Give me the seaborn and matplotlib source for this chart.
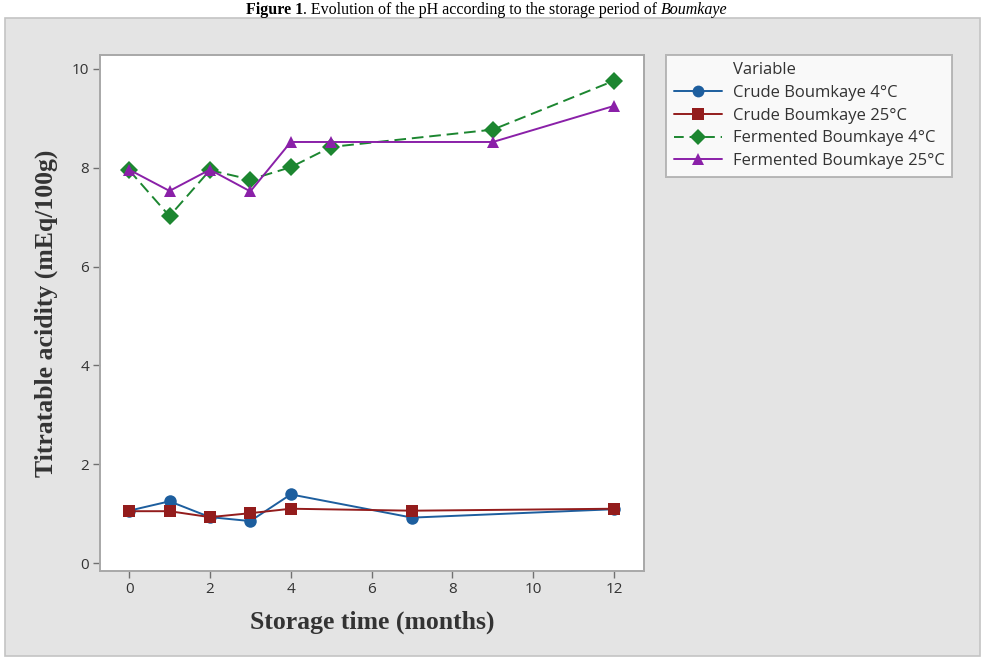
import pandas as pd
import numpy as np
import seaborn as sns
import matplotlib.pyplot as plt
from matplotlib.patches import Rectangle

# data
series_names = ['Crude Boumkaye 4°C', 'Crude Boumkaye 25°C',
                'Fermented Boumkaye 4°C', 'Fermented Boumkaye 25°C']

crude_4_months = [0, 1, 2, 3, 4, 7, 12]
crude_4_acidity = [1.06, 1.25, 0.93, 0.85, 1.39, 0.92, 1.09]

crude_25_months = [0, 1, 2, 3, 4, 7, 12]
crude_25_acidity = [1.05, 1.05, 0.93, 1.01, 1.10, 1.06, 1.10]

ferm_4_months = [0, 1, 2, 3, 4, 5, 9, 12]
ferm_4_acidity = [7.95, 7.02, 7.95, 7.76, 8.01, 8.42, 8.77, 9.76]

ferm_25_months = [0, 1, 2, 3, 4, 5, 9, 12]
ferm_25_acidity = [7.96, 7.53, 7.96, 7.52, 8.52, 8.52, 8.52, 9.25]

x_ticks = [0, 2, 4, 6, 8, 10, 12]
y_ticks = [0, 2, 4, 6, 8, 10]


def tidy_data():
    parts = []
    for name, m, v in zip(series_names,
                          [crude_4_months, crude_25_months, ferm_4_months, ferm_25_months],
                          [crude_4_acidity, crude_25_acidity, ferm_4_acidity, ferm_25_acidity]):
        parts.append(pd.DataFrame({'Month': m, 'Acidity': v, 'Variable': name}))
    return pd.concat(parts, ignore_index=True)


df = tidy_data()

colorPalette = dict(zip(series_names, ['#1D5E9E', '#931C1C', '#1C8630', '#8A20A8']))
markerMap = dict(zip(series_names, ['o', 's', 'D', '^']))
dashMap = dict(zip(series_names, ['', '', (6, 3), '']))

sns.set_theme(style='white')
plt.rcParams['font.family'] = ['Open Sans', 'DejaVu Sans']

fig = plt.figure(figsize=(9.85, 6.6), dpi=100, facecolor='white')

# grey panel behind the plot, like the stat package export
fig.patches.append(Rectangle((5 / 985, 1 - 656 / 660), 975 / 985, 638 / 660,
                             transform=fig.transFigure, facecolor='#e4e4e4',
                             edgecolor='#c4c4c4', linewidth=1.2, zorder=-10))

ax = fig.add_axes([100 / 985, 1 - 571 / 660, 544 / 985, 516 / 660])
ax.set_facecolor('white')

sns.lineplot(data=df, x='Month', y='Acidity', hue='Variable', style='Variable',
             hue_order=series_names, style_order=series_names,
             palette=colorPalette, markers=markerMap, dashes=dashMap,
             markersize=9, markeredgewidth=0, linewidth=1.4, ax=ax, legend=False)

ax.set_xlim(-0.72, 12.74)
ax.set_ylim(-0.16, 10.28)
ax.set_xticks(x_ticks)
ax.set_yticks(y_ticks)
ax.tick_params(axis='both', which='major', direction='out', length=5, width=1,
               color='#707070', labelsize=11, labelcolor='#333333', left=True, bottom=True, pad=3)
for s in ax.spines.values():
    s.set_color('#a8a8a8')
    s.set_linewidth(1.4)

ax.set_xlabel('Storage time (months)', fontsize=18.5, fontweight='bold',
              family='Liberation Serif', color='#333333', labelpad=10)
ax.set_ylabel('Titratable acidity (mEq/100g)', fontsize=18.5, fontweight='bold',
              family='Liberation Serif', color='#333333', labelpad=10)

# legend: "Variable" sits in the label column, so it goes in as a row with an empty handle
handles = [plt.Line2D([], [], linestyle='none')]
handles += [plt.Line2D([], [], color=colorPalette[n], marker=markerMap[n], markersize=8.5,
                       markeredgewidth=0, linewidth=1.4,
                       linestyle=(0, (5, 3)) if dashMap[n] else '-') for n in series_names]
leg = fig.legend(handles, ['Variable'] + series_names, loc='upper left',
                 bbox_to_anchor=(666 / 985, 1 - 55 / 660), borderaxespad=0,
                 frameon=True, fancybox=False, fontsize=12,
                 handlelength=2.9, handletextpad=0.65, labelspacing=0.4,
                 borderpad=0.45)
leg.get_frame().set_edgecolor('#a8a8a8')
leg.get_frame().set_linewidth(1.4)
leg.get_frame().set_facecolor('white')
for t in leg.get_texts():
    t.set_color('#333333')

# caption of the figure above the grey panel
renderer = fig.canvas.get_renderer()
yb = 1 - 14 / 660
pieces = [('Figure 1', 'bold', 'normal'),
          ('. Evolution of the pH according to the storage period of ', 'normal', 'normal'),
          ('Boumkaye', 'normal', 'italic')]
texts = []
x0 = 0.0
for txt, w, st in pieces:
    t = fig.text(x0, yb, txt, fontsize=11.5, fontweight=w, fontstyle=st,
                 family='Liberation Serif', va='baseline', ha='left', color='black')
    x0 += t.get_window_extent(renderer=renderer).width / fig.bbox.width
    texts.append(t)
# center the caption around the middle of the chart
shift = 487 / 985 - x0 / 2
for t in texts:
    t.set_x(t.get_position()[0] + shift)

plt.savefig('out.png', dpi=100, facecolor=fig.get_facecolor())
plt.close(fig)
